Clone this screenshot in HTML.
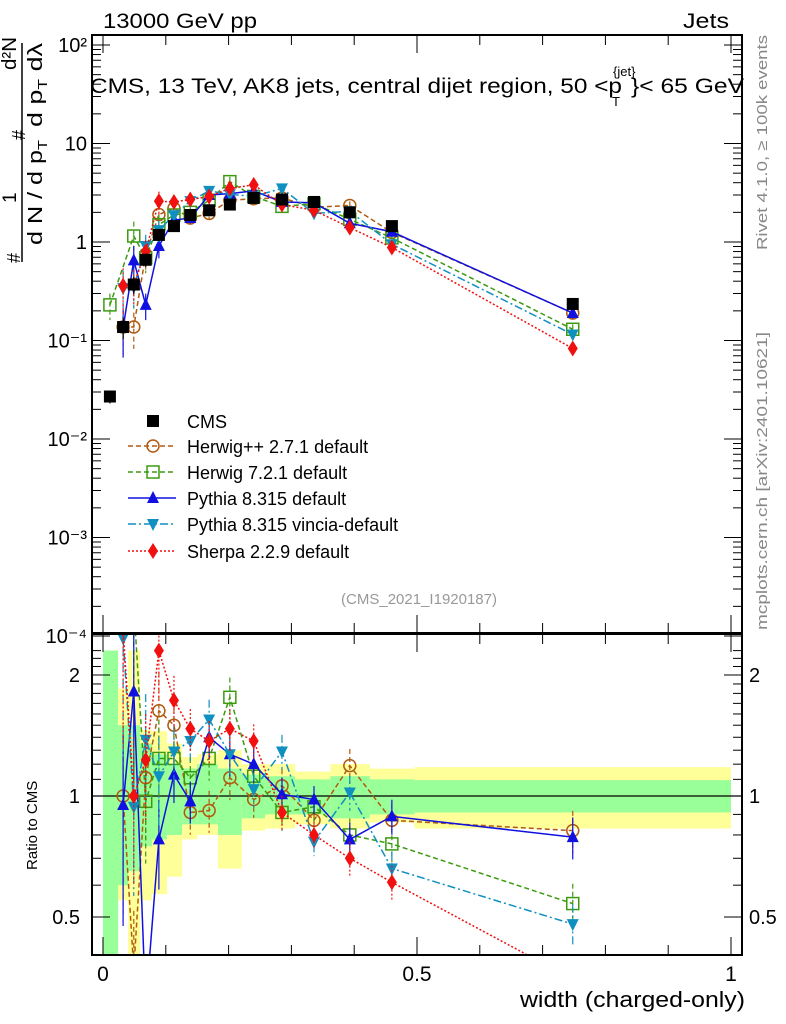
<!DOCTYPE html>
<html><head><meta charset="utf-8"><style>
html,body{margin:0;padding:0;background:#fff;}
svg{display:block;font-family:"Liberation Sans",sans-serif;}
</style></head><body>
<svg id="chart" width="786" height="1024" viewBox="0 0 786 1024" xmlns="http://www.w3.org/2000/svg">
<defs>
<clipPath id="clipMain"><rect x="92" y="35" width="650" height="598"/></clipPath>
<clipPath id="clipRatio"><rect x="92" y="634" width="650" height="321"/></clipPath>
</defs>
<g id="bands" clip-path="url(#clipRatio)"></g>
<g id="marks"></g>
<g id="axes"></g>
<text x="103" y="28" font-size="21" textLength="154" lengthAdjust="spacingAndGlyphs">13000 GeV pp</text>
<text x="683" y="28" font-size="21" textLength="46" lengthAdjust="spacingAndGlyphs">Jets</text>
<g>
<text x="90" y="93" font-size="21" textLength="532" lengthAdjust="spacingAndGlyphs">CMS, 13 TeV, AK8 jets, central dijet region, 50 &lt;p</text>
<text x="613" y="76" font-size="13">{jet}</text>
<text x="612" y="106" font-size="13">T</text>
<text x="631" y="93" font-size="21" textLength="113" lengthAdjust="spacingAndGlyphs">}&lt; 65 GeV</text>
</g>
<text transform="translate(767,250) rotate(-90)" font-size="15" fill="#888" textLength="215" lengthAdjust="spacingAndGlyphs">Rivet 4.1.0, ≥ 100k events</text>
<text transform="translate(767,630) rotate(-90)" font-size="15" fill="#888" textLength="298" lengthAdjust="spacingAndGlyphs">mcplots.cern.ch [arXiv:2401.10621]</text>
<text x="497" y="604" font-size="15" fill="#999" text-anchor="end">(CMS_2021_I1920187)</text>
<g font-size="20">
<text transform="translate(16,70) rotate(-90)" textLength="33" lengthAdjust="spacingAndGlyphs">d²N</text>
<text transform="translate(25,140) rotate(-90)" font-size="18">#</text>
<text transform="translate(16,203) rotate(-90)" font-size="19">1</text>
<text transform="translate(20,263) rotate(-90)" font-size="18">#</text>
<line x1="22" y1="43" x2="22" y2="262" stroke="#000" stroke-width="1.5"/>
<text transform="translate(42,127) rotate(-90)" textLength="84" lengthAdjust="spacingAndGlyphs">d p<tspan font-size="13" dy="5">T</tspan><tspan dy="-5"> dλ</tspan></text>
<text transform="translate(42,245) rotate(-90)" textLength="105" lengthAdjust="spacingAndGlyphs">d N / d p<tspan font-size="13" dy="5">T</tspan></text>
</g>
<text transform="translate(37,870) rotate(-90)" font-size="15">Ratio to CMS</text>
<text x="520" y="1007" font-size="22" textLength="225" lengthAdjust="spacingAndGlyphs">width (charged-only)</text>
<g id="legend"></g>
</svg>
<script>
// ---- data ----
const xs = [0.011,0.032,0.049,0.068,0.089,0.113,0.139,0.169,0.202,0.240,0.285,0.336,0.393,0.460,0.748];
const binEdges = [0,0.024,0.040,0.059,0.078,0.102,0.126,0.150,0.183,0.221,0.258,0.306,0.362,0.425,0.496,1.0];
const cms =     [0.027,0.137,0.37,0.66,1.18,1.45,1.88,2.1,2.4,2.8,2.7,2.55,2.0,1.45,0.235];
const herwigpp =[null,0.137,0.137,0.75,1.9,2.2,1.75,1.95,2.65,2.75,2.8,2.25,2.35,1.25,0.19];
const herwig7 = [0.23,null,1.15,0.69,1.5,1.88,2.0,2.65,4.1,2.9,2.3,2.45,1.7,1.1,0.13];
const pythia =  [null,0.134,0.65,0.23,0.91,1.67,1.75,3.0,3.1,3.3,2.55,2.5,1.55,1.27,0.19];
const vincia =  [null,0.34,0.35,0.91,1.32,1.87,2.6,3.3,3.05,2.9,3.5,1.95,2.05,0.95,0.115];
const sherpa =  [null,0.36,0.37,0.80,2.6,2.55,2.7,2.9,3.5,3.8,2.4,2.1,1.4,0.88,0.083];
const rHerwigpp=[null,1.0,0.37,1.11,1.63,1.50,0.91,0.92,1.11,0.98,1.06,0.87,1.19,0.87,0.82];
const rHerwig7 =[8,null,3.0,0.97,1.24,1.24,1.11,1.24,1.76,1.12,0.91,0.94,0.80,0.76,0.54];
const rPythia  =[null,0.95,1.82,0.30,0.78,1.13,0.97,1.40,1.27,1.20,1.01,0.98,0.78,0.89,0.79];
const rVincia  =[null,2.47,0.94,1.38,1.12,1.29,1.37,1.55,1.27,1.04,1.29,0.77,1.02,0.66,0.48];
const rSherpa  =[null,2.6,1.0,1.23,2.3,1.73,1.47,1.37,1.47,1.37,0.91,0.80,0.70,0.61,0.35];
const relErr   =[0.3,0.5,0.4,0.3,0.25,0.15,0.12,0.12,0.12,0.1,0.1,0.08,0.1,0.1,0.12];
const greenLo = [0.33,0.6,0.65,0.75,0.78,0.8,0.85,0.85,0.8,0.88,0.9,0.9,0.88,0.9,0.91];
const greenHi = [2.3,1.5,1.5,1.35,1.27,1.2,1.17,1.2,1.17,1.13,1.12,1.1,1.12,1.1,1.095];
const yellowLo= [0.33,0.55,0.33,0.55,0.57,0.63,0.78,0.8,0.66,0.82,0.83,0.85,0.83,0.86,0.83];
const yellowHi= [2.3,1.85,2.3,1.46,1.45,1.35,1.25,1.27,1.3,1.2,1.2,1.15,1.2,1.17,1.18];
const mainTicks = ["10²","10","1","10⁻¹","10⁻²","10⁻³","10⁻⁴"];
const mainTickVals = [100,10,1,0.1,0.01,0.001,0.0001];
const xTickVals = [0,0.5,1];
const xTickLabels = ["0","0.5","1"];
const ratioTickVals = [2,1,0.5];
const ratioTickLabels = ["2","1","0.5"];

// ---- axes functions ----
const X = v => 103 + v*628;
const Y = v => 242 - 98.5*Math.log10(v);
const R = v => 796 - 121*Math.log2(v);
const NS = "http://www.w3.org/2000/svg";
function mk(tag, attrs, parent){const e=document.createElementNS(NS,tag);for(const k in attrs)e.setAttribute(k,attrs[k]);parent.appendChild(e);return e;}
const marks=document.getElementById('marks');
const axes=document.getElementById('axes');
const bands=document.getElementById('bands');
const legend=document.getElementById('legend');

for(let i=0;i<xs.length;i++){
  const x0=X(binEdges[i]), x1=X(binEdges[i+1]);
  const y=mk('rect',{x:x0,y:R(yellowHi[i]),width:x1-x0,height:R(yellowLo[i])-R(yellowHi[i]),fill:'#ffff99'},bands);
  
  
  const g=mk('rect',{x:x0,y:R(greenHi[i]),width:x1-x0,height:R(greenLo[i])-R(greenHi[i]),fill:'#99ff99'},bands);
  
  
}
const ref=mk('line',{x1:92,x2:742,y1:R(1),y2:R(1),stroke:'#000','stroke-width':1.3},bands);



function marker(type,x,y,color,parent){
  let e;
  if(type==='sq') e=mk('rect',{x:x-6,y:y-6,width:12,height:12,fill:'#000'},parent);
  else if(type==='circ') e=mk('circle',{cx:x,cy:y,r:6,fill:'none',stroke:color,'stroke-width':1.5},parent);
  else if(type==='osq') e=mk('rect',{x:x-6,y:y-6,width:12,height:12,fill:'none',stroke:color,'stroke-width':1.5},parent);
  else if(type==='up') e=mk('polygon',{points:`${x},${y-7} ${x-6},${y+5} ${x+6},${y+5}`,fill:color},parent);
  else if(type==='down') e=mk('polygon',{points:`${x},${y+7} ${x-6},${y-5} ${x+6},${y-5}`,fill:color},parent);
  else if(type==='dia') e=mk('polygon',{points:`${x},${y-8} ${x-5},${y} ${x},${y+8} ${x+5},${y}`,fill:color},parent);
  return e;
}
const series=[
  {name:'herwigpp',label:'Herwig++ 2.7.1 default',main:herwigpp,ratio:rHerwigpp,color:'#b05a10',m:'circ',dash:'5,3'},
  {name:'herwig7',label:'Herwig 7.2.1 default',main:herwig7,ratio:rHerwig7,color:'#3c9a10',m:'osq',dash:'5,3'},
  {name:'pythia',label:'Pythia 8.315 default',main:pythia,ratio:rPythia,color:'#1010e0',m:'up',dash:''},
  {name:'vincia',label:'Pythia 8.315 vincia-default',main:vincia,ratio:rVincia,color:'#1090c0',m:'down',dash:'8,3,2,3'},
  {name:'sherpa',label:'Sherpa 2.2.9 default',main:sherpa,ratio:rSherpa,color:'#f01010',m:'dia',dash:'2,2'}
];
function drawSeries(s,vals,F,clip,panel){
  const g=mk('g',{'clip-path':clip},marks);
  
  
  let pts=[];
  vals.forEach((v,i)=>{ if(v!=null) pts.push([X(xs[i]),F(v),i,v]); });
  const l=mk('polyline',{points:pts.map(p=>p[0]+','+p[1]).join(' '),fill:'none',stroke:s.color,'stroke-width':1.5,'stroke-dasharray':s.dash},g);
  
  
  pts.forEach(p=>{
    const e=relErr[p[2]], v=p[3];
    mk('line',{x1:p[0],x2:p[0],y1:F(v*(1+e)),y2:F(Math.max(v*(1-e),1e-6)),stroke:s.color,'stroke-width':1.2,'stroke-dasharray':s.dash},g);
    const m=marker(s.m,p[0],p[1],s.color,g);
    
    
  });
}
series.forEach(s=>{drawSeries(s,s.main,Y,'url(#clipMain)','main');drawSeries(s,s.ratio,R,'url(#clipRatio)','ratio');});
const cg=mk('g',{'clip-path':'url(#clipMain)'},marks);


cms.forEach((v,i)=>{
  mk('line',{x1:X(xs[i]),x2:X(xs[i]),y1:Y(v*(1+relErr[i]*0.5)),y2:Y(v*(1-relErr[i]*0.5)),stroke:'#000','stroke-width':1.2},cg);
  const m=marker('sq',X(xs[i]),Y(v),'#000',cg);
  
  
});

const f1=mk('rect',{x:92,y:35,width:650,height:598,fill:'none',stroke:'#000','stroke-width':2},axes);


const f2=mk('rect',{x:92,y:634,width:650,height:321,fill:'none',stroke:'#000','stroke-width':2},axes);


mainTickVals.forEach((v,i)=>{
  const y=Y(v);
  mk('line',{x1:92,x2:110,y1:y,y2:y,stroke:'#000','stroke-width':1},axes);
  mk('line',{x1:724,x2:742,y1:y,y2:y,stroke:'#000','stroke-width':1},axes);
  const t=mk('text',{x:87,y:y+7,'font-size':20,'text-anchor':'end'},axes);
  t.textContent=mainTicks[i];
  
  
  if(i<mainTickVals.length-1){
    for(let k=2;k<10;k++){const yy=Y(v/10*k); mk('line',{x1:92,x2:101,y1:yy,y2:yy,stroke:'#000'},axes); mk('line',{x1:733,x2:742,y1:yy,y2:yy,stroke:'#000'},axes);}
  }
});
for(let k=0;k<=10;k++){
  const v=k/10, x=X(v), big=(k%5===0), h=big?18:10;
  [[35,1],[633,-1],[634,1],[955,-1]].forEach(([y0,d])=>mk('line',{x1:x,x2:x,y1:y0,y2:y0+d*h,stroke:'#000'},axes));
}
xTickVals.forEach((v,i)=>{
  const t=mk('text',{x:X(v),y:981,'font-size':21,'text-anchor':'middle'},axes);
  t.textContent=xTickLabels[i];
  
  
});
ratioTickVals.forEach((v,i)=>{
  const y=R(v);
  mk('line',{x1:92,x2:110,y1:y,y2:y,stroke:'#000'},axes);
  mk('line',{x1:724,x2:742,y1:y,y2:y,stroke:'#000'},axes);
  const t=mk('text',{x:80,y:y+7,'font-size':20,'text-anchor':'end'},axes);
  t.textContent=ratioTickLabels[i];
  
  
  const t2=mk('text',{x:749,y:y+7,'font-size':20},axes);
  t2.textContent=ratioTickLabels[i];
  
  
});
[0.4,0.6,0.7,0.8,0.9,1.1,1.2,1.3,1.4,1.5,1.6,1.7,1.8,1.9,2.1,2.2,2.3].forEach(v=>{
  const y=R(v); if(y<636||y>953) return;
  mk('line',{x1:92,x2:101,y1:y,y2:y,stroke:'#000'},axes); mk('line',{x1:733,x2:742,y1:y,y2:y,stroke:'#000'},axes);
});
const ly=[428,453,479,505,531,558];
const lc=mk('g',{},legend);


marker('sq',153,ly[0]-7,'#000',lc);
const lt=mk('text',{x:187,y:ly[0],'font-size':18},lc); lt.textContent='CMS';
series.forEach((s,i)=>{
  const g=mk('g',{},legend);
  
  
  const y=ly[i+1]-7;
  mk('line',{x1:128,x2:176,y1:y,y2:y,stroke:s.color,'stroke-width':1.5,'stroke-dasharray':s.dash},g);
  marker(s.m,153,y,s.color,g);
  const t=mk('text',{x:187,y:ly[i+1],'font-size':18},g); t.textContent=s.label;
});
</script>
</body></html>
